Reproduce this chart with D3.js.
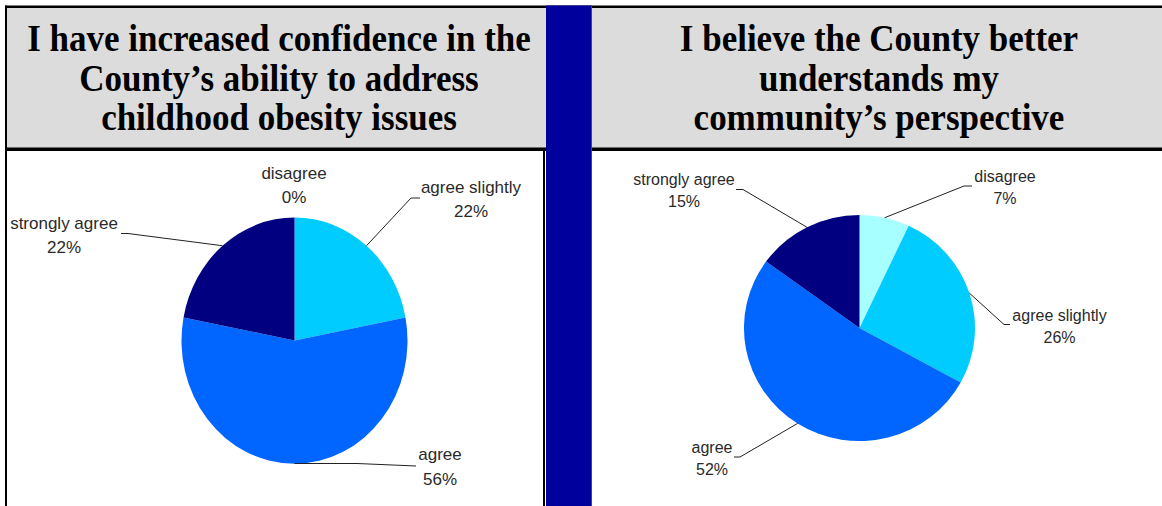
<!DOCTYPE html>
<html>
<head>
<meta charset="utf-8">
<script src="https://cdn.jsdelivr.net/npm/d3@7"></script>
<style>
  html, body { margin: 0; padding: 0; background: #fff; }
  svg { display: block; }
</style>
</head>
<body>
<div id="chart"></div>
<script>
// categories in drawing order, clockwise from 12 o'clock
const categories = ["disagree", "agree slightly", "agree", "strongly agree"];
const sliceColors = ["#a8ffff", "#00ccff", "#0066ff", "#000080"];

const leftValues = [0, 22, 56, 22];
const rightValues = [7, 26, 52, 15];

const leftTitle = ["I have increased confidence in the", "County\u2019s ability to address", "childhood obesity issues"];
const rightTitle = ["I believe the County better", "understands my", "community\u2019s perspective"];

const width = 1162, height = 506;

// layout for each panel (label anchors, leader elbows)
const panels = [
    {
        values: leftValues, title: leftTitle, titleX: 279,
        cx: 294.5, cy: 340.5, rx: 113, ry: 123, fontSize: 17, gap: 24.5,
        labels: [
            { x: 294, y: 178.5, elbow: null, end: null },
            { x: 471, y: 192.5, elbow: [411, 198], end: [420, 198] },
            { x: 440, y: 460, elbow: [357, 463.5], end: [416, 466] },
            { x: 64, y: 228.5, elbow: [128, 233.5], end: [121, 233.5] }
        ]
    },
    {
        values: rightValues, title: rightTitle, titleX: 879,
        cx: 859.5, cy: 328, rx: 115.5, ry: 113, fontSize: 16, gap: 22,
        labels: [
            { x: 1005, y: 181.5, elbow: [964, 186], end: [972, 186] },
            { x: 1059.5, y: 320.5, elbow: [1004, 324.5], end: [1010, 324.5] },
            { x: 712, y: 453, elbow: [740, 457], end: [734, 457] },
            { x: 684, y: 184.5, elbow: [743, 189.5], end: [736, 189.5] }
        ]
    }
];

const svg = d3.select("#chart").append("svg")
    .attr("width", width)
    .attr("height", height);

// frame: headers, borders, blue divider
svg.append("rect").attr("x", 7).attr("y", 8).attr("width", 539).attr("height", 140).attr("fill", "#dcdcdc");
svg.append("rect").attr("x", 592).attr("y", 8).attr("width", 570).attr("height", 140).attr("fill", "#dcdcdc");
svg.append("rect").attr("x", 5).attr("y", 5.5).attr("width", 1157).attr("height", 2.5).attr("fill", "#000");
svg.append("rect").attr("x", 5).attr("y", 5.5).attr("width", 2).attr("height", 500.5).attr("fill", "#000");
svg.append("rect").attr("x", 5).attr("y", 147.5).attr("width", 541).attr("height", 3.5).attr("fill", "#000");
svg.append("rect").attr("x", 592).attr("y", 147.5).attr("width", 570).attr("height", 3.5).attr("fill", "#000");
svg.append("rect").attr("x", 543).attr("y", 151).attr("width", 2).attr("height", 355).attr("fill", "#000");
svg.append("rect").attr("x", 546).attr("y", 5.5).attr("width", 46).attr("height", 500.5).attr("fill", "#00009c");
svg.append("rect").attr("x", 591).attr("y", 5.5).attr("width", 1).attr("height", 500.5).attr("fill", "#3a3ac8");

const pie = d3.pie().sort(null).value(d => d);
const arc = d3.arc().innerRadius(0).outerRadius(1);

panels.forEach(p => {
    // title
    p.title.forEach((line, i) => {
        svg.append("text")
            .attr("transform", `translate(${p.titleX},${51 + i * 39.5}) scale(1,1.08)`)
            .attr("text-anchor", "middle")
            .style("font-family", "'Liberation Serif', 'Times New Roman', serif")
            .style("font-weight", "bold")
            .style("font-size", "35px")
            .attr("fill", "#000")
            .text(line);
    });

    const arcs = pie(p.values);

    // slices
    svg.append("g")
        .attr("transform", `translate(${p.cx},${p.cy}) scale(${p.rx},${p.ry})`)
        .selectAll("path")
        .data(arcs)
        .join("path")
        .attr("d", arc)
        .attr("fill", (d, i) => sliceColors[i]);

    // leader lines + labels
    arcs.forEach((a, i) => {
        const lab = p.labels[i];
        const mid = (a.startAngle + a.endAngle) / 2;
        const sx = p.cx + p.rx * Math.sin(mid);
        const sy = p.cy - p.ry * Math.cos(mid);

        if (lab.elbow && a.value > 0) {
            svg.append("path")
                .attr("d", d3.line()([[sx, sy], lab.elbow, lab.end]))
                .attr("fill", "none")
                .attr("stroke", "#222")
                .attr("stroke-width", 1);
        }

        const t = svg.append("text")
            .attr("text-anchor", "middle")
            .style("font-family", "'Liberation Sans', Arial, sans-serif")
            .style("font-size", p.fontSize + "px")
            .attr("fill", "#2a2a2a");
        t.append("tspan").attr("x", lab.x).attr("y", lab.y).text(categories[i]);
        t.append("tspan").attr("x", lab.x).attr("y", lab.y + p.gap).text(a.value + "%");
    });
});
</script>
</body>
</html>
